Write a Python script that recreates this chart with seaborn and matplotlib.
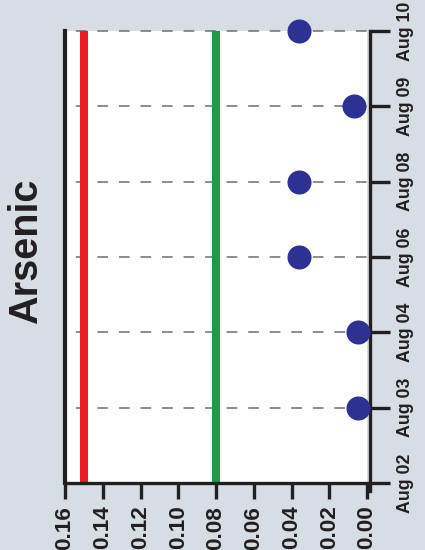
import numpy as np
import pandas as pd
import matplotlib
matplotlib.use("Agg")
import matplotlib.pyplot as plt
import seaborn as sns

# Sampling dates (bottom to top) and arsenic results
dates = ["Aug 02", "Aug 03", "Aug 04", "Aug 06", "Aug 08", "Aug 09", "Aug 10"]
arsenic = [np.nan, 0.005, 0.005, 0.036, 0.036, 0.007, 0.036]

# Reference limits drawn as vertical bars
red_limit = 0.15
green_limit = 0.08

value_ticks = [0.16, 0.14, 0.12, 0.10, 0.08, 0.06, 0.04, 0.02, 0.00]
value_labels = ["0.16", "0.14", "0.12", "0.10", "0.08", "0.06", "0.04", "0.02", "0.00"]
title = "Arsenic"

BG = "#D6DDE5"
INK = "#231F20"
DOT = "#2E3192"
RED = "#ED1C24"
GREEN = "#1F9A4B"
GRID = "#6D6E71"

sns.set_theme(style="white")
plt.rcParams["font.family"] = ["Liberation Sans", "DejaVu Sans"]

df = pd.DataFrame({"date": dates, "value": arsenic})
df["pos"] = np.arange(len(df))

W, H = 425, 550
fig = plt.figure(figsize=(W / 100, H / 100), dpi=100, facecolor=BG)
ax = fig.add_axes([65 / W, 67 / H, 302 / W, 452 / H])
ax.set_facecolor("white")

ax.set_xlim(value_ticks[0], value_ticks[-1])
ax.set_ylim(df["pos"].iloc[0], df["pos"].iloc[-1])

# dashed guide at every sampling date
ax.hlines(df["pos"].iloc[1:], value_ticks[0], value_ticks[-1], colors=GRID,
          linewidth=1.1, linestyles=[(7.0, (7.0, 7.1))], clip_on=False, zorder=1)

# limit bars
ax.axvline(red_limit, color=RED, lw=5.8, zorder=2, solid_capstyle="butt")
ax.axvline(green_limit, color=GREEN, lw=5.8, zorder=2, solid_capstyle="butt")

# results
sns.scatterplot(data=df.dropna(), x="value", y="pos", s=300, color=DOT,
                 linewidth=0, ax=ax, zorder=4, clip_on=False, legend=False)

# spines
ax.spines["top"].set_visible(False)
for side in ("left", "bottom", "right"):
    ax.spines[side].set_visible(True)
    ax.spines[side].set_color(INK)
ax.spines["left"].set_linewidth(3.0)
ax.spines["bottom"].set_linewidth(2.4)
ax.spines["right"].set_linewidth(2.4)
ax.spines["right"].set_position(("outward", 2))
ax.spines["right"].set_bounds(-0.1, df["pos"].iloc[-1])

# value axis
ax.set_xticks(value_ticks)
ax.set_xticklabels(value_labels)
ax.tick_params(axis="x", bottom=True, direction="out", length=11.5, width=2.4,
               color=INK, pad=4.8, labelsize=16.2, labelcolor=INK, labelrotation=90)
for lab in ax.get_xticklabels():
    lab.set_fontweight("bold")

# date axis on the right
ax.yaxis.tick_right()
ax.set_yticks(df["pos"])
ax.set_yticklabels(df["date"])
ax.tick_params(axis="y", right=True, left=False, direction="out", length=14.5,
               width=2.4, color=INK, pad=5.0, labelsize=12.8, labelcolor=INK,
               labelrotation=90)
for lab in ax.get_yticklabels():
    lab.set_fontweight("bold")
    lab.set_family(["Liberation Sans Narrow", "Liberation Sans"])
    lab.set_verticalalignment("center")

ax.set_xlabel("")
ax.set_ylabel("")

fig.text(26.4 / W, 1 - 251.5 / H, title, rotation=90, ha="center", va="center",
         fontsize=28.5, fontweight="bold", color=INK)

fig.savefig("out.png", dpi=100, facecolor=BG)
